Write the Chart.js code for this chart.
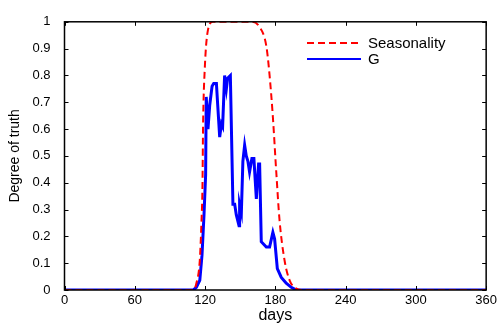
<!DOCTYPE html>
<html>
<head>
<meta charset="utf-8">
<script src="https://cdn.jsdelivr.net/npm/chart.js@4.4.0/dist/chart.umd.min.js"></script>
<style>
  html, body { margin: 0; padding: 0; background: #fff; }
  #wrap { width: 500px; height: 325px; }
</style>
</head>
<body>
<div id="wrap"><canvas id="chart"></canvas></div>
<script>
// days / values
const seasonDays = [0, 100, 108, 111, 112.6, 115.5, 116.9, 117.8, 118.3, 119.7, 122.5, 126.5, 159.5, 166.6, 172.3, 175.1, 177.9, 180.8, 183.6, 187.9, 192.2, 196.4, 202, 360]
const seasonVals = [0, 0, 0, 0.005, 0.025, 0.11, 0.25, 0.39, 0.61, 0.82, 0.97, 1, 1, 0.98, 0.91, 0.8, 0.645, 0.44, 0.26, 0.11, 0.036, 0.01, 0, 0]

const gDays = [0, 110, 112.6, 115.5, 117.4, 119.1, 120.5, 121, 122.5, 124, 126, 127.4, 129.7, 130.8, 132.5, 134, 135, 136.7, 138.2, 139.3, 141.6, 143.8, 145.3, 146.7, 149, 149.5, 151, 152.3, 153.8, 155.2, 156.6, 158, 160, 161.7, 163.8, 165.7, 166.6, 168, 172.3, 175.1, 177.9, 179.4, 181.7, 185.1, 189.3, 193.6, 198, 360]
const gVals = [0, 0, 0.01, 0.036, 0.13, 0.28, 0.43, 0.72, 0.6, 0.69, 0.76, 0.77, 0.77, 0.69, 0.57, 0.62, 0.61, 0.8, 0.75, 0.79, 0.8, 0.32, 0.32, 0.28, 0.24, 0.32, 0.29, 0.48, 0.54, 0.5, 0.48, 0.44, 0.49, 0.49, 0.34, 0.47, 0.47, 0.18, 0.16, 0.16, 0.215, 0.19, 0.08, 0.047, 0.025, 0.01, 0, 0]

const xTicks = [0, 60, 120, 180, 240, 300, 360]

const toPoints = (xs, ys) => xs.map((d, i) => ({x: d, y: ys[i]}))

const FONT = "'Liberation Sans', Arial, sans-serif"

// box, inward ticks and legend inside the plot
const frame = {
    id: 'frame',
    afterDraw(chart) {
        const {ctx, chartArea: a, scales: {x, y}} = chart
        ctx.save()
        ctx.strokeStyle = '#000'
        ctx.lineWidth = 1.5
        ctx.strokeRect(a.left, a.top, a.right - a.left, a.bottom - a.top)
        ctx.lineWidth = 1
        ctx.beginPath()
        x.ticks.forEach(t => {
            const px = Math.round(x.getPixelForValue(t.value)) + 0.5
            ctx.moveTo(px, a.bottom); ctx.lineTo(px, a.bottom - 4)
            ctx.moveTo(px, a.top); ctx.lineTo(px, a.top + 4)
        })
        y.ticks.forEach(t => {
            const py = Math.round(y.getPixelForValue(t.value)) + 0.5
            ctx.moveTo(a.left, py); ctx.lineTo(a.left + 4, py)
            ctx.moveTo(a.right, py); ctx.lineTo(a.right - 4, py)
        })
        ctx.stroke()

        // legend
        let ly = 43
        chart.data.datasets.forEach(ds => {
            ctx.beginPath()
            ctx.strokeStyle = ds.borderColor
            ctx.lineWidth = 2
            ctx.setLineDash(ds.borderDash || [])
            ctx.moveTo(307, ly); ctx.lineTo(361, ly)
            ctx.stroke()
            ctx.setLineDash([])
            ctx.fillStyle = '#000'
            ctx.font = '15px ' + FONT
            ctx.textBaseline = 'middle'
            ctx.fillText(ds.label, 368, ly + 1)
            ly += 16
        })
        ctx.restore()
    }
}

new Chart(document.getElementById('chart'), {
    type: 'line',
    data: {
        datasets: [{
            label: 'Seasonality',
            data: toPoints(seasonDays, seasonVals),
            borderColor: '#ff0000',
            borderWidth: 2,
            borderDash: [7, 4],
            pointRadius: 0,
            cubicInterpolationMode: 'monotone',
            tension: 0.4
        }, {
            label: 'G',
            data: toPoints(gDays, gVals),
            borderColor: '#0000ff',
            borderWidth: 3,
            pointRadius: 0,
            tension: 0
        }]
    },
    options: {
        responsive: true,
        maintainAspectRatio: false,
        animation: false,
        layout: {padding: {top: 11, right: 13, left: 0, bottom: 0}},
        plugins: {legend: {display: false}, tooltip: {enabled: false}},
        scales: {
            x: {
                type: 'linear',
                min: 0, max: 360,
                afterBuildTicks: s => { s.ticks = xTicks.map(v => ({value: v})) },
                afterFit: s => { s.height = 35 },
                grid: {display: false, drawTicks: false},
                border: {display: false},
                ticks: {color: '#000', font: {family: FONT, size: 13}, padding: 3, maxRotation: 0},
                title: {display: true, text: 'days', color: '#000', font: {family: FONT, size: 16}, padding: {top: 0, bottom: 0}}
            },
            y: {
                min: 0, max: 1,
                afterFit: s => { s.width = 64.5 },
                grid: {display: false, drawTicks: false},
                border: {display: false},
                ticks: {stepSize: 0.1, color: '#000', font: {family: FONT, size: 13}, padding: 14,
                    callback: v => String(Math.round(v * 10) / 10)},
                title: {display: true, text: 'Degree of truth', color: '#000', font: {family: FONT, size: 14}, padding: {top: 7, bottom: 4}}
            }
        }
    },
    plugins: [frame]
})
</script>
</body>
</html>
